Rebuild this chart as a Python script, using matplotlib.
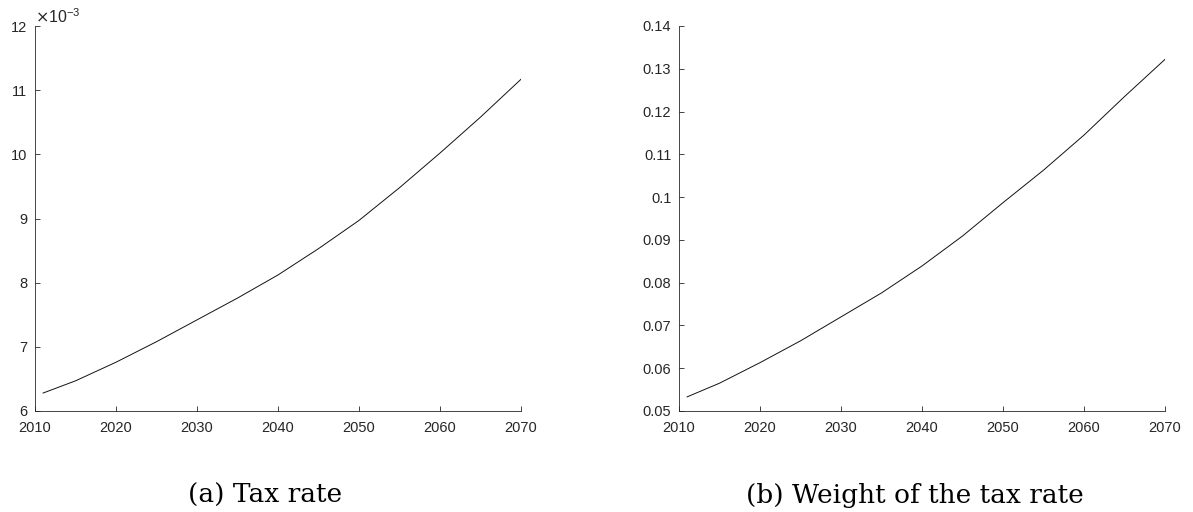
import matplotlib
matplotlib.use("Agg")
import matplotlib.pyplot as plt
from matplotlib.ticker import FuncFormatter

# ── values ──────────────────────────────────────────────────────
years = [2011, 2015, 2020, 2025, 2030, 2035, 2040, 2045, 2050, 2055, 2060, 2065, 2070]
tax_rate = [6.28e-3, 6.47e-3, 6.76e-3, 7.08e-3, 7.42e-3, 7.76e-3, 8.12e-3,
            8.53e-3, 8.97e-3, 9.48e-3, 10.02e-3, 10.58e-3, 11.17e-3]
tax_weight = [0.0533, 0.0565, 0.0613, 0.0664, 0.0720, 0.0776, 0.0839,
              0.0909, 0.0987, 0.1063, 0.1145, 0.1235, 0.1322]

x_ticks = [2010, 2020, 2030, 2040, 2050, 2060, 2070]
left_yticks = [6e-3, 7e-3, 8e-3, 9e-3, 10e-3, 11e-3, 12e-3]
right_yticks = [0.05, 0.06, 0.07, 0.08, 0.09, 0.10, 0.11, 0.12, 0.13, 0.14]
captions = ["(a) Tax rate", "(b) Weight of the tax rate"]

AX_COLOR = "#262626"
TICK_FS = 10.5
plt.rcParams["font.family"] = ["Liberation Sans", "DejaVu Sans"]

W, H = 1193, 512
fig = plt.figure(figsize=(W / 100, H / 100), dpi=100)

def px_axes(x0, x1, ytop, ybot):
    return fig.add_axes([x0 / W, (H - ybot) / H, (x1 - x0) / W, (ybot - ytop) / H])

def style(ax, yticks, fmt):
    for s in ("top", "right"):
        ax.spines[s].set_visible(False)
    for s in ("left", "bottom"):
        ax.spines[s].set_color(AX_COLOR)
        ax.spines[s].set_linewidth(0.6)
    ax.set_xlim(2010, 2070)
    ax.set_ylim(yticks[0], yticks[-1])
    ax.set_xticks(x_ticks)
    ax.set_yticks(yticks)
    ax.yaxis.set_major_formatter(FuncFormatter(fmt))
    ax.tick_params(axis="x", direction="in", length=3.5, width=0.6, color=AX_COLOR,
                   labelcolor=AX_COLOR, labelsize=TICK_FS, pad=7)
    ax.tick_params(axis="y", direction="in", length=3.5, width=0.6, color=AX_COLOR,
                   labelcolor=AX_COLOR, labelsize=TICK_FS, pad=5.5)

ax1 = px_axes(35, 521, 26, 411)
ax1.plot(years, tax_rate, color="#111111", linewidth=0.7)
style(ax1, left_yticks, lambda v, _: f"{v * 1e3:g}")
ax1.text(0.0, 1.0, r"$\times\mathregular{10^{-3}}$", transform=ax1.transAxes,
         fontsize=11.5, color=AX_COLOR, ha="left", va="bottom")

ax2 = px_axes(679, 1165, 26, 411)
ax2.plot(years, tax_weight, color="#111111", linewidth=0.7)
style(ax2, right_yticks, lambda v, _: f"{v:g}")

# captions under each panel
for xc, txt in zip((265, 915), captions):
    fig.text(xc / W, 9 / H, txt, ha="center", va="baseline",
             fontsize=19, family="DejaVu Serif", color="black")

fig.savefig("out.png", dpi=100)
